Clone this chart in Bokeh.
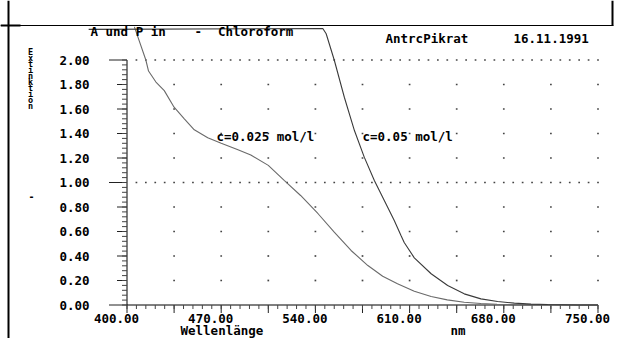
import numpy as np
from bokeh.plotting import figure
from bokeh.models import Range1d, Label, BoxAnnotation
from bokeh.core.properties import value
from bokeh.embed import file_html
from bokeh.resources import INLINE

# ---------------- data ----------------
wl_c025 = [405.5, 414, 416, 421.5, 427.7, 435, 442.6, 450, 460, 470, 482, 492,
           505, 517, 529, 542, 554, 566.5, 579, 590, 601, 613.5, 626, 638,
           650.6, 663, 675, 688, 700, 720, 750]
ext_c025 = [2.27, 2.00, 1.91, 1.82, 1.75, 1.615, 1.52, 1.43, 1.365, 1.32, 1.27, 1.225,
            1.14, 1.016, 0.894, 0.745, 0.594, 0.445, 0.322, 0.235, 0.173, 0.113, 0.069, 0.042,
            0.023, 0.012, 0.006, 0.003, 0.001, 0.0, 0.0]

wl_c05 = [371.5, 545.5, 548, 554, 561.5, 569, 576.3, 583.8, 591.2, 598.6, 603.6, 606,
          613.5, 626, 638.3, 650.6, 663, 675.4, 687.8, 700.2, 712.6, 735, 750]
ext_c05 = [2.25, 2.257, 2.214, 2.0, 1.696, 1.424, 1.207, 1.016, 0.853, 0.69, 0.567, 0.51,
           0.385, 0.255, 0.159, 0.091, 0.05, 0.029, 0.015, 0.007, 0.004, 0.0, 0.0]

x_major = [400, 435, 470, 505, 540, 575, 610, 645, 680, 715, 750]
x_minor = list(range(400, 751, 7))
x_label_vals = [400, 470, 540, 610, 680, 750]
x_label_txt = ["400.00", "470.00", "540.00", "610.00", "680.00", "750.00"]
y_major = [0.0, 0.2, 0.4, 0.6, 0.8, 1.0, 1.2, 1.4, 1.6, 1.8, 2.0]
y_label_txt = ["0.00", "0.20", "0.40", "0.60", "0.80", "1.00", "1.20", "1.40", "1.60", "1.80", "2.00"]
y_long = [0.0, 1.0, 2.0]
y_minor = [round(v, 2) for v in np.arange(0, 2.0001, 0.04)]
y_dotted_rows = [1.0, 2.0]

title_parts = ["A und P in", "-", "Chloroform"]
sample_txt = "AntrcPikrat"
date_txt = "16.11.1991"
x_title = "Wellenlänge"
x_unit = "nm"
y_title = "Extinktion"
y_unit = "-"
lab_c025 = "c=0.025 mol/l"
lab_c05 = "c=0.05 mol/l"

# ---------------- layout constants ----------------
W, H = 626, 338
XPX = 1.34571          # px per nm
YPX = 122.5            # px per extinction unit
X0 = 400 - 126.5 / XPX  # data x at left canvas edge
Y1 = 304.5 / YPX        # data y at top canvas edge
FONT = "DejaVu Sans Mono"
FS = "12.5px"
INK = "black"

p = figure(width=W, height=H, output_backend="svg", toolbar_location=None,
           x_range=Range1d(X0, X0 + W / XPX), y_range=Range1d(Y1 - H / YPX, Y1),
           x_axis_type=None, y_axis_type=None, min_border=0)
p.outline_line_color = None
p.grid.visible = False
p.background_fill_color = "white"
p.border_fill_color = "white"

def dx(px):
    return px / XPX

def dy(px):
    return px / YPX

# ---------------- axes (drawn with the plot scales) ----------------
ax0, ax1 = x_major[0], x_major[-1]
ay0, ay1 = y_major[0], y_major[-1]
p.segment(x0=[ax0, ax0], y0=[ay0, ay0], x1=[ax0, ax1], y1=[ay1, ay0],
          line_color=INK, line_width=1)

# y ticks
ylen = [dx(18) if v in y_long else dx(10) for v in y_major]
p.segment(x0=[ax0] * len(y_major), y0=y_major,
          x1=[ax0 - l for l in ylen], y1=y_major, line_color="#222222", line_width=1)
p.segment(x0=[ax0] * len(y_minor), y0=y_minor,
          x1=[ax0 - dx(5)] * len(y_minor), y1=y_minor, line_color="#444444", line_width=1)
# x ticks
p.segment(x0=x_major, y0=[ay0] * len(x_major), x1=x_major,
          y1=[ay0 - dy(8)] * len(x_major), line_color="#222222", line_width=1)
p.segment(x0=x_minor, y0=[ay0] * len(x_minor), x1=x_minor,
          y1=[ay0 - dy(4)] * len(x_minor), line_color="#444444", line_width=1)

tkw = dict(text_font=value(FONT), text_font_style="bold", text_font_size=value(FS),
           text_color=INK, text_baseline="middle")
p.text(x=[ax0] * len(y_major), y=y_major, text=y_label_txt, x_offset=-37.5,
       text_align="right", **tkw)
p.text(x=x_label_vals, y=[ay0 - dy(13.7)] * len(x_label_vals), text=x_label_txt,
       x_offset=-10.5, text_align="center", **tkw)

# ---------------- grid dots ----------------
gx, gy = [], []
for yv in y_major[1:-1]:
    if yv in y_dotted_rows:
        continue
    for xv in x_major[1:]:
        gx.append(xv)
        gy.append(yv)
for yv in y_dotted_rows:
    for xv in x_minor[1:]:
        gx.append(xv)
        gy.append(yv)
p.scatter(gx, gy, marker="square", size=1.7, fill_color="#444444", line_color=None)

# ---------------- curves ----------------
p.line(wl_c025, ext_c025, line_color="#6a6a6a", line_width=1.1)
p.line(wl_c05, ext_c05, line_color="#3a3a3a", line_width=1.1)

# ---------------- texts ----------------
def lab(x, y, text, size=FS, align="left", baseline="middle", **kw):
    p.add_layout(Label(x=x, y=y, text=text,
                       text_font=FONT, text_font_style="bold", text_font_size=size,
                       text_color=INK, text_align=align, text_baseline=baseline, **kw))

def px_x(px):
    return X0 + px / XPX

def px_y(py):
    return Y1 - py / YPX

lab(px_x(180), px_y(330.3), x_title)
lab(px_x(450), px_y(330.3), x_unit)

lab(px_x(90), px_y(31.0), title_parts[0])
lab(px_x(194), px_y(31.0), title_parts[1])
lab(px_x(217.5), px_y(31.0), title_parts[2])
lab(px_x(385), px_y(37.8), sample_txt)
lab(px_x(513), px_y(37.8), date_txt)

lab(px_x(216), px_y(136.3), lab_c025)
lab(px_x(362), px_y(136.3), lab_c05)

lab(px_x(30), px_y(46), "\n".join(y_title), size="8.5px", align="center", baseline="top",
    text_line_height=0.6)
lab(px_x(31), px_y(195), y_unit, size="10px", align="center")

# ---------------- frame decorations (screen px, origin bottom-left) ----------------
def box(l, r, b, t):
    p.add_layout(BoxAnnotation(left=l, right=r, bottom=b, top=t,
                               left_units="screen", right_units="screen",
                               bottom_units="screen", top_units="screen",
                               fill_color="black", fill_alpha=1.0, line_color=None))

box(7, 9, 0, H)                 # left vertical rule
box(0, 613, H - 25.5, H - 24.5)  # top rule
box(0, 20, H - 26, H - 24)       # heavier left end of top rule
box(611, 613, H - 25, H)         # right end of top box

open("out.html", "w").write(file_html(p, INLINE))
